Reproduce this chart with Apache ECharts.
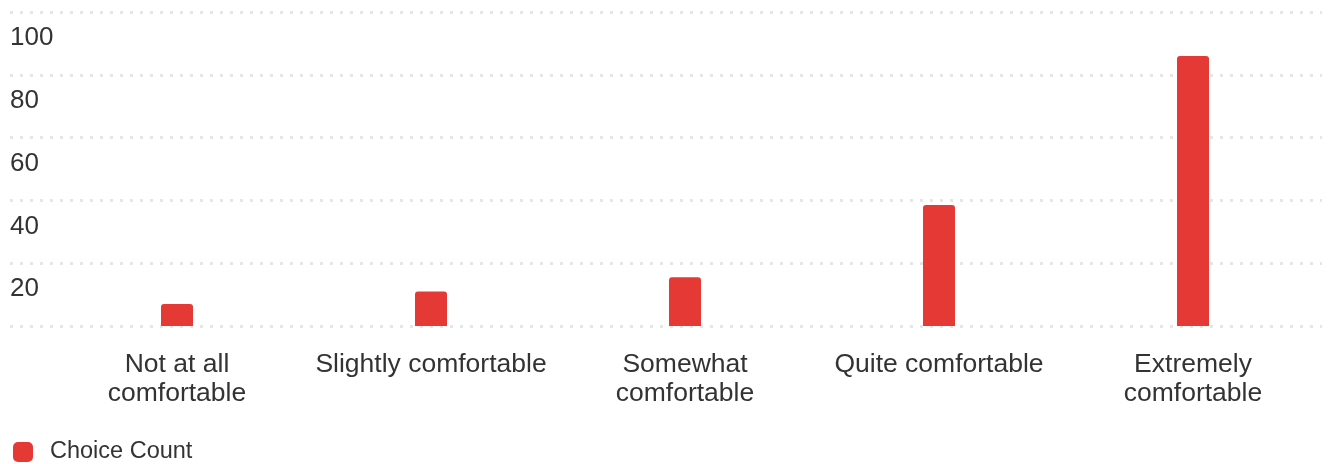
<!DOCTYPE html>
<html>
<head>
<meta charset="utf-8">
<script src="https://cdn.jsdelivr.net/npm/echarts@6/dist/echarts.min.js"></script>
<style>
html,body{margin:0;padding:0;background:#fff;}
#chart{width:1333px;height:464px;}
</style>
</head>
<body>
<div id="chart"></div>
<script>
const categories = ["Not at all comfortable", "Slightly comfortable", "Somewhat comfortable", "Quite comfortable", "Extremely comfortable"];
const tickLabels = ["Not at all\ncomfortable", "Slightly comfortable", "Somewhat\ncomfortable", "Quite comfortable", "Extremely\ncomfortable"];
const choiceCount = [7, 11, 15.5, 38.5, 86];
const seriesName = "Choice Count";
const yMin = 0, yMax = 100, yStep = 20;

const FONT = '"Liberation Sans", Arial, sans-serif';
const TXT = '#333333';
const chart = echarts.init(document.getElementById('chart'), null, {renderer: 'canvas'});
chart.setOption({
  animation: false,
  backgroundColor: '#ffffff',
  textStyle: {fontFamily: FONT},
  legend: {
    left: 13, top: 440, padding: 0,
    itemWidth: 20, itemHeight: 20, icon: 'roundRect',
    textStyle: {fontSize: 23.5, color: TXT, fontFamily: FONT, padding: [2,0,0,12]},
    data: [seriesName]
  },
  grid: [
    {left: 10, right: 11, top: 12, height: 314, containLabel: false},
    {left: 50, right: 13, top: 12, height: 314, containLabel: false}
  ],
  xAxis: [
    {gridIndex: 0, type: 'value', show: false, min: 0, max: 1},
    {gridIndex: 1, type: 'category', data: categories,
     axisLine: {show: false}, axisTick: {show: false},
     axisLabel: {fontSize: 26.5, color: TXT, fontFamily: FONT, lineHeight: 29, margin: 24,
       interval: 0, formatter: (v, i) => tickLabels[i]}}
  ],
  yAxis: [
    {gridIndex: 0, type: 'value', min: yMin, max: yMax, interval: yStep,
     axisLine: {show: false}, axisTick: {show: false},
     splitLine: {show: true, lineStyle: {color: '#e6e6e6', width: 3, type: [3, 7]}},
     axisLabel: {inside: true, margin: 0, align: 'left', verticalAlign: 'top',
       padding: [13, 0, 0, 0], lineHeight: 26,
       fontSize: 26, color: TXT, fontFamily: FONT,
       formatter: v => v === 0 ? '' : String(v)}},
    {gridIndex: 1, type: 'value', min: yMin, max: yMax, interval: yStep, show: false,
     splitLine: {show: false}}
  ],
  series: [{
    name: seriesName, type: 'bar', xAxisIndex: 1, yAxisIndex: 1,
    data: choiceCount, barWidth: 32,
    itemStyle: {color: '#e53935', borderRadius: [3, 3, 0, 0]}
  }]
});
</script>
</body>
</html>
